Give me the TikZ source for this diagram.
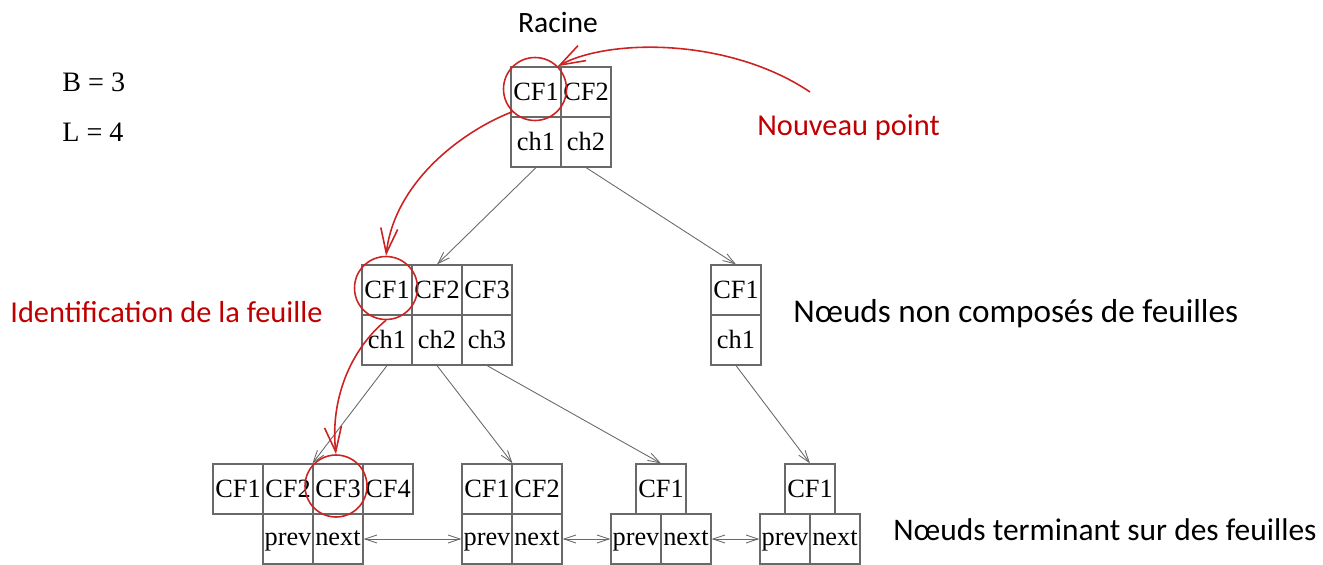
\documentclass[tikz,border=0pt]{standalone}
\usepackage{fontspec}
\setmainfont{Liberation Serif}
\newfontfamily\carl{Carlito}
\usetikzlibrary{arrows.meta}
\definecolor{cellgray}{RGB}{105,105,105}
\definecolor{darkred}{RGB}{192,0,0}
\definecolor{markred}{RGB}{204,34,34}

\begin{document}
\begin{tikzpicture}[x=0.02cm,y=-0.02cm,
  cell/.style={draw=cellgray, line width=0.65pt, minimum width=1cm, minimum height=1cm,
    inner sep=0pt, text height=9.9pt, text depth=0pt, font=\fontsize{15}{17}\selectfont},
  linkcell/.style={cell, text height=7.2pt},
  link/.style={draw=cellgray, line width=0.5pt, -{Straight Barb[length=2.4mm,width=1.6mm]}},
  dlink/.style={draw=cellgray, line width=0.5pt,
    {Straight Barb[length=2.4mm,width=1.6mm]}-{Straight Barb[length=2.4mm,width=1.6mm]}},
  hilite/.style={draw=markred, line width=0.9pt},
  trail/.style={draw=markred, line width=0.9pt, -{Straight Barb[length=5mm,width=3.4mm]}},
  lbl/.style={inner sep=0pt, font=\carl\fontsize{17.3}{20}\selectfont},
  param/.style={inner sep=0pt, anchor=west, font=\fontsize{16}{18}\selectfont},
]
\useasboundingbox (0,0) rectangle (1323,565);

% parameters
\node[param] (pb) at (62,82) {B = 3};
\node[param] (pl) at (62,132) {L = 4};

% root
\node[lbl, font=\carl\fontsize{16.8}{20}\selectfont] (racine) at (558,22) {Racine};
\node[cell] (r1) at (536,92) {CF1};
\node[cell] (r2) at (586,92) {CF2};
\node[cell] (rc1) at (536,142) {ch1};
\node[cell] (rc2) at (586,142) {ch2};

% inner nodes
\node[cell] (m1) at (387,290) {CF1};
\node[cell] (m2) at (437,290) {CF2};
\node[cell] (m3) at (487,290) {CF3};
\node[cell] (mc1) at (387,340) {ch1};
\node[cell] (mc2) at (437,340) {ch2};
\node[cell] (mc3) at (487,340) {ch3};

\node[cell] (n1) at (736,290) {CF1};
\node[cell] (nc1) at (736,340) {ch1};

% leaves
\node[cell] (a1) at (238,489) {CF1};
\node[cell] (a2) at (288,489) {CF2};
\node[cell] (a3) at (338,489) {CF3};
\node[cell] (a4) at (388,489) {CF4};
\node[linkcell] (ap) at (288,539) {prev};
\node[linkcell] (an) at (338,539) {next};

\node[cell] (b1) at (487,489) {CF1};
\node[cell] (b2) at (537,489) {CF2};
\node[linkcell] (bp) at (487,539) {prev};
\node[linkcell] (bn) at (537,539) {next};

\node[cell] (c1) at (661,489) {CF1};
\node[linkcell] (cp) at (636,539) {prev};
\node[linkcell] (cn) at (686,539) {next};

\node[cell] (d1) at (810,489) {CF1};
\node[linkcell] (dp) at (785,539) {prev};
\node[linkcell] (dn) at (835,539) {next};

% child pointers
\draw[link] (rc1.south) -- (m2.north);
\draw[link] (rc2.south) -- (n1.north);
\draw[link] (mc1.south) -- (a3.north west);
\draw[link] (mc2.south) -- (b1.north east);
\draw[link] (mc3.south) -- (c1.north);
\draw[link] (nc1.south) -- (d1.north);

% leaf chain
\draw[dlink] (an.east) -- (bp.west);
\draw[dlink] (bn.east) -- (cp.west);
\draw[dlink] (cn.east) -- (dp.west);

% descent of the new point
\node[hilite, circle, inner sep=0pt, minimum size=1.26cm] (o1) at (535,89) {};
\node[hilite, circle, inner sep=0pt, minimum size=1.26cm] (o2) at (386,288) {};
\node[hilite, circle, inner sep=0pt, minimum size=1.24cm] (o3) at (336,486) {};

\coordinate (start) at (810,92);
\draw[trail] (start) .. controls (730,38) and (610,38) .. (o1.north east);
\draw[trail] (o1.south west) .. controls (465,130) and (395,180) .. (o2.north);
\draw[trail] (o2.south) .. controls (350,350) and (330,400) .. (o3.north);

% captions
\node[lbl, text=darkred, anchor=west] (nouveau) at (757,127) {Nouveau point};
\node[lbl, text=darkred, anchor=west] (ident) at (10,312) {Identification de la feuille};
\node[lbl, anchor=west, font=\carl\fontsize{18.9}{22}\selectfont] (nonleaf) at (793,314) {Nœuds non composés de feuilles};
\node[lbl, anchor=west, font=\carl\fontsize{17.9}{21}\selectfont] (leaf) at (893,530) {Nœuds terminant sur des feuilles};
\end{tikzpicture}
\end{document}
